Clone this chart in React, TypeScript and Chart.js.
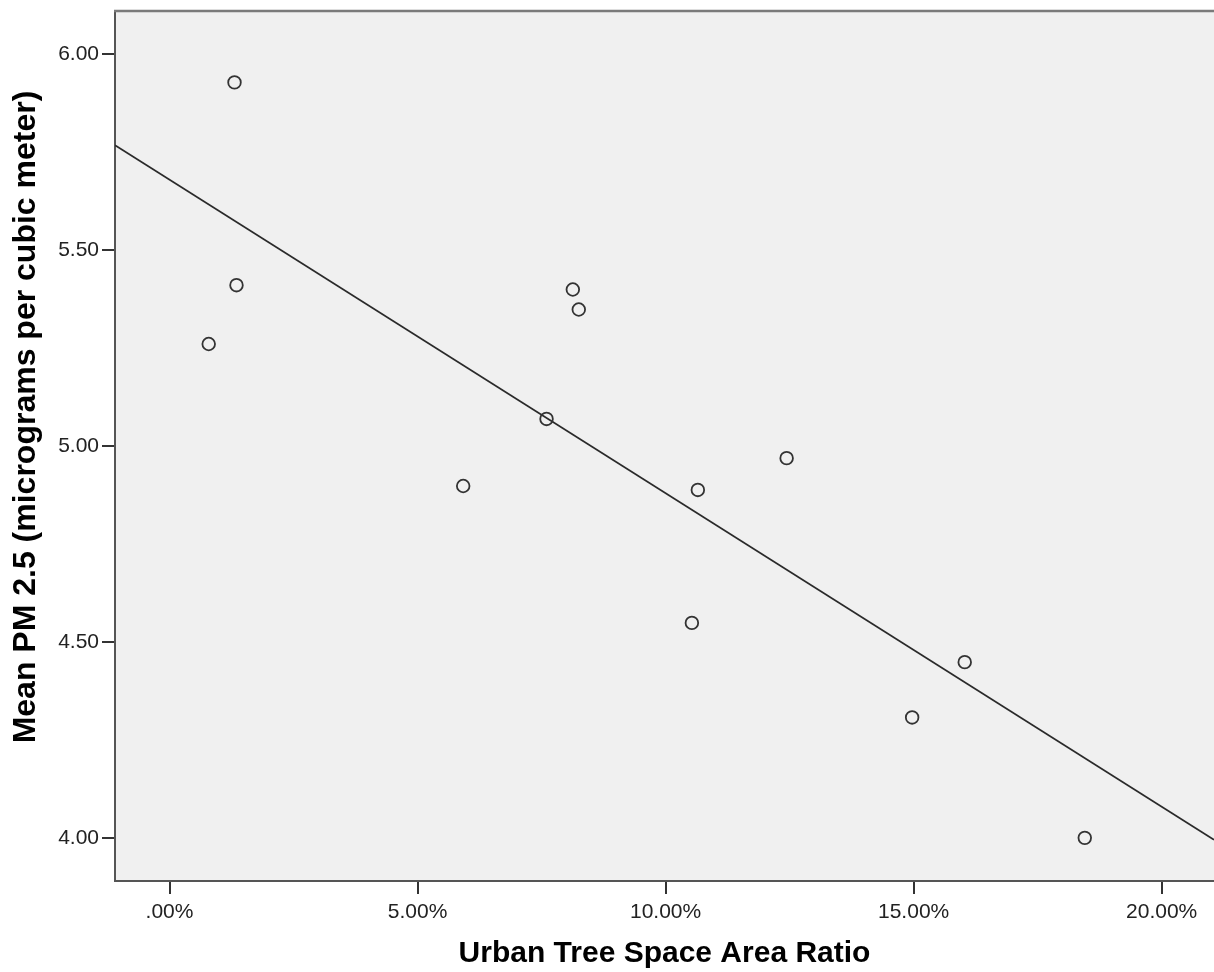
import React, { useEffect, useRef } from "react";
import { Chart, registerables } from "chart.js";

Chart.register(...registerables);

const treeRatio = [1.31, 1.35, 0.79, 8.13, 8.25, 7.6, 5.92, 10.65, 12.44, 10.53, 16.03, 14.97, 18.45];
const meanPM25 = [5.927, 5.41, 5.26, 5.399, 5.348, 5.069, 4.898, 4.888, 4.969, 4.549, 4.449, 4.308, 4.001];
const fitLineX = [-1.099, 21.055];
const fitLineY = [5.767, 3.996];
const xTickValues = [0, 5, 10, 15, 20];
const xTickLabels = [".00%", "5.00%", "10.00%", "15.00%", "20.00%"];
const yTickValues = [4, 4.5, 5, 5.5, 6];
const yTickLabels = ["4.00", "4.50", "5.00", "5.50", "6.00"];
const xTitle = "Urban Tree Space Area Ratio";
const yTitle = "Mean PM 2.5 (micrograms per cubic meter)";

const FONT = "'Liberation Sans', Arial, sans-serif";

export default function App() {
  const ref = useRef<HTMLCanvasElement | null>(null);

  useEffect(() => {
    document.body.style.margin = "0";
    const canvas = ref.current;
    if (!canvas) return;

    const bgPlugin = {
      id: "plotBg",
      beforeDraw(chart: any) {
        const { ctx, chartArea } = chart;
        ctx.save();
        ctx.fillStyle = "#f0f0f0";
        ctx.fillRect(chartArea.left, chartArea.top, chartArea.right - chartArea.left, chartArea.bottom - chartArea.top);
        ctx.restore();
      },
      afterDraw(chart: any) {
        const { ctx, chartArea } = chart;
        ctx.save();
        ctx.strokeStyle = "#7a7a7a";
        ctx.lineWidth = 2.5;
        ctx.beginPath();
        ctx.moveTo(chartArea.left - 1, chartArea.top);
        ctx.lineTo(chartArea.right, chartArea.top);
        ctx.stroke();
        // y axis title
        ctx.fillStyle = "#000000";
        ctx.font = `bold 32px ${FONT}`;
        ctx.textAlign = "center";
        ctx.textBaseline = "middle";
        ctx.translate(26, 417);
        ctx.rotate(-Math.PI / 2);
        ctx.fillText(yTitle, 0, 0);
        ctx.restore();
      },
    };

    const chart = new Chart(canvas, {
      type: "scatter",
      data: {
        datasets: [
          {
            label: "Observed",
            data: treeRatio.map((x, i) => ({ x, y: meanPM25[i] })),
            pointRadius: 6.3,
            pointBorderWidth: 1.8,
            pointBorderColor: "#333333",
            pointBackgroundColor: "rgba(0,0,0,0)",
            showLine: false,
          },
          {
            label: "Linear",
            data: fitLineX.map((x, i) => ({ x, y: fitLineY[i] })),
            showLine: true,
            borderColor: "#2a2a2a",
            borderWidth: 1.8,
            pointRadius: 0,
            fill: false,
          },
        ],
      },
      options: {
        responsive: false,
        animation: false,
        layout: { autoPadding: false, padding: { top: 11, left: 0, right: 0, bottom: 0 } },
        plugins: {
          legend: { display: false },
          tooltip: { enabled: false },
        },
        scales: {
          x: {
            type: "linear",
            min: -1.099,
            max: 21.055,
            afterFit(scale: any) {
              scale.height = 91;
              scale.paddingLeft = 0;
              scale.paddingRight = 0;
            },
            afterBuildTicks(scale: any) {
              scale.ticks = xTickValues.map((v) => ({ value: v }));
            },
            ticks: {
              color: "#222222",
              font: { family: FONT, size: 21 },
              padding: 6,
              maxRotation: 0,
              autoSkip: false,
              callback: (v: any) => {
                const i = xTickValues.indexOf(Number(v));
                return i >= 0 ? xTickLabels[i] : "";
              },
            },
            grid: {
              drawOnChartArea: false,
              drawTicks: true,
              tickLength: 13,
              color: "#333333",
              lineWidth: 2,
            },
            border: { display: true, color: "#555555", width: 2 },
            title: {
              display: true,
              text: xTitle,
              color: "#000000",
              font: { family: FONT, size: 30, weight: "bold" },
              padding: { top: 0, bottom: 0 },
            },
          },
          y: {
            type: "linear",
            min: 3.891,
            max: 6.109,
            afterFit(scale: any) {
              scale.width = 115;
              scale.paddingTop = 0;
              scale.paddingBottom = 0;
            },
            afterBuildTicks(scale: any) {
              scale.ticks = yTickValues.map((v) => ({ value: v }));
            },
            ticks: {
              color: "#222222",
              font: { family: FONT, size: 21 },
              padding: 3,
              autoSkip: false,
              callback: (v: any) => {
                const i = yTickValues.indexOf(Number(v));
                return i >= 0 ? yTickLabels[i] : "";
              },
            },
            grid: {
              drawOnChartArea: false,
              drawTicks: true,
              tickLength: 13,
              color: "#333333",
              lineWidth: 2,
            },
            border: { display: true, color: "#555555", width: 2 },
            title: { display: false },
          },
        },
      },
      plugins: [bgPlugin],
    });

    return () => chart.destroy();
  }, []);

  return (
    <div style={{ width: 1214, height: 972, background: "#ffffff" }}>
      <canvas ref={ref} width={1214} height={972} style={{ display: "block" }} />
    </div>
  );
}
